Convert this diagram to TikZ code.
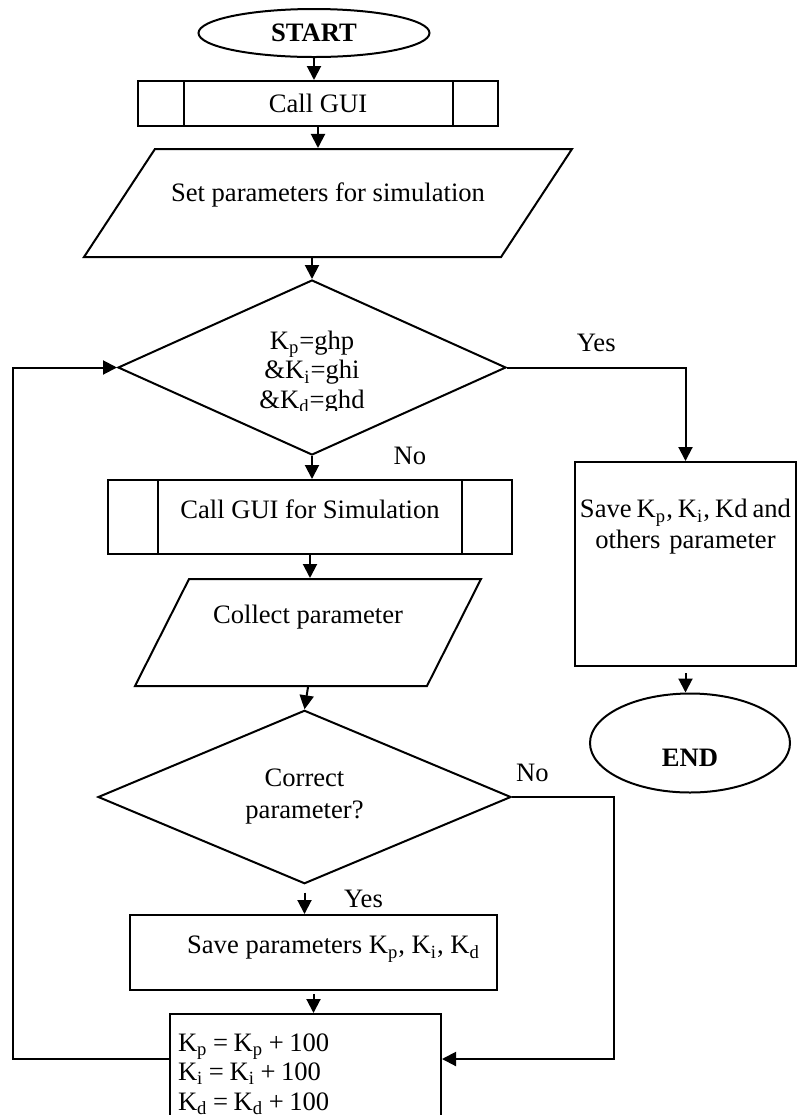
\documentclass[tikz,border=0pt]{standalone}
\usepackage{fontspec}
\setmainfont{Liberation Serif}
\usetikzlibrary{shapes.geometric,arrows.meta,positioning}

\tikzset{
  every node/.style={font=\fontsize{13.3pt}{14.75pt}\selectfont},
  term/.style={ellipse,draw,line width=1pt,inner sep=0pt,font=\fontsize{13.3pt}{14.75pt}\selectfont\bfseries},
  proc/.style={rectangle,draw,line width=1pt,inner sep=2pt},
  subproc/.style={proc,path picture={
      \draw[line width=1pt] ([xshift=#1]path picture bounding box.north west) -- ([xshift=#1]path picture bounding box.south west);
      \draw[line width=1pt] ([xshift=-#1]path picture bounding box.north east) -- ([xshift=-#1]path picture bounding box.south east);}},
  io/.style={trapezium,draw,line width=1pt,trapezium stretches body,inner xsep=2pt},
  decision/.style={diamond,draw,line width=1pt,inner sep=0pt},
  flow/.style={draw,line width=1pt,-{Triangle[length=7pt,width=7pt]}}
}

\begin{document}
\begin{tikzpicture}[x=0.5pt,y=-0.5pt,on grid]
   \useasboundingbox (0,0) rectangle (798,1115);
   % main column
   \node[term,minimum width=115.5pt,minimum height=24pt] (start) at (314,33) {START};
   \node[subproc=22.75pt,minimum width=180pt,minimum height=22.5pt] (gui) [below=35.25pt of start,xshift=2pt] {Call GUI};
   \node[io,trapezium left angle=56.7,trapezium right angle=123.3,minimum width=244pt,text height=10pt,text depth=11.2pt,inner ysep=16.4pt] (setp) [below=49.75pt of gui,xshift=5pt] {Set parameters for simulation};
   \node[decision,minimum width=194pt,minimum height=87.5pt] (dec1) [below=82.25pt of setp,xshift=-8pt] {};
   \begin{scope}
     \clip ([xshift=-40pt,yshift=40pt]dec1.center) rectangle ([xshift=40pt,yshift=-21.25pt]dec1.center);
     \node[align=center,yshift=-2.5pt] (cond) at (dec1) {K\textsubscript{p}=ghp\\\&K\textsubscript{i}=ghi\\\&K\textsubscript{d}=ghd};
   \end{scope}
   \node[subproc=25pt,minimum width=202pt,minimum height=37pt,text height=10pt,text depth=8.2pt] (guisim) [below=74.75pt of dec1,xshift=-1pt] {Call GUI for Simulation};
   \node[io,trapezium left angle=63.2,trapezium right angle=116.8,minimum width=173pt,text height=10pt,text depth=18.7pt,inner ysep=12.4pt] (collect) [below=57.75pt of guisim,xshift=-1pt] {Collect parameter};
   \node[decision,minimum width=206.5pt,minimum height=86pt,align=center] (dec2) [below=82.25pt of collect,xshift=-1.75pt] {Correct\\[1.25pt]parameter?};
   \node[proc,minimum width=183.5pt,minimum height=37.5pt,text height=10pt,text depth=8.7pt] (savep) [below=77.75pt of dec2,xshift=4.5pt] {\hspace*{20pt}Save parameters K\textsubscript{p}, K\textsubscript{i}, K\textsubscript{d}};
   \node[proc,minimum width=135.5pt,minimum height=60pt,text width=127.5pt,align=left,inner xsep=4pt,inner ysep=0pt] (upd) [below=60.75pt of savep,xshift=-4pt] {\spaceskip=0.21em\relax K\textsubscript{p} = K\textsubscript{p} + 100\\K\textsubscript{i} = K\textsubscript{i} + 100\\K\textsubscript{d} = K\textsubscript{d} + 100};
   % right branch
   \node[proc,minimum width=110.5pt,minimum height=102pt,text width=110.5pt,align=center,inner xsep=0pt,text height=10pt,text depth=56.2pt] (saveall) [below right=98.25pt and 186.75pt of dec1] {\makebox[\linewidth]{\spaceskip=0.19em\relax Save K\textsubscript{p}, K\textsubscript{i}, Kd and}\\[0.75pt]others parameter};
   \node[term,minimum width=100pt,minimum height=49.5pt,text height=24pt,text depth=0.2pt] (end) [below=89.5pt of saveall,xshift=2.25pt] {END};

   \path
    (start.south) edge[flow] (start.south |- gui.north)
    (gui.south) edge[flow] (gui.south |- setp.north)
    (setp.south -| dec1.north) edge[flow] (dec1.north)
    (dec1.south) edge[flow] node[pos=0,right=37pt] {No} (dec1.south |- guisim.north)
    (guisim.south) edge[flow] (guisim.south |- collect.north)
    (collect.south) edge[flow] (dec2.north)
    (dec2.south) edge[flow,shorten <=4pt] node[right=16pt] {Yes} (dec2.south |- savep.north)
    (savep.south) edge[flow,shorten <=1.5pt] (savep.south |- upd.north)
    (saveall.south) edge[flow,shorten <=3pt] (saveall.south |- end.north);
   \draw[flow] (dec1.east) -| node[pos=0.25,above=4pt] {Yes} (saveall.north);
   \draw[flow] (dec2.east) -- node[pos=0.2,above=4pt] {No} ++(102,0) |- ([yshift=-23pt]upd.north east);
   \draw[flow] ([yshift=-23pt]upd.north west) -- ++(-156,0) |- (dec1.west);
\end{tikzpicture}
\end{document}
